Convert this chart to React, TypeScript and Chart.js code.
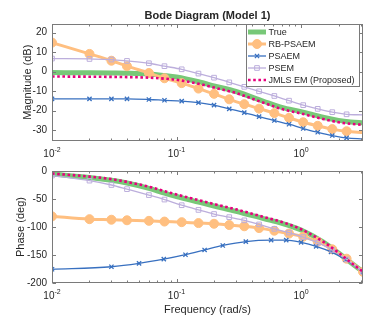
import React, { useEffect, useRef } from 'react';
import { Chart, registerables } from 'chart.js';

Chart.register(...registerables);

// ---------------- data ----------------
const FREQ_MARK = [0.01, 0.02, 0.03, 0.04, 0.06, 0.08, 0.11, 0.15, 0.2, 0.265, 0.35, 0.46, 0.61, 0.8, 1.04, 1.36, 1.78, 2.32, 3.1416];
const FREQ_SMOOTH = [0.01, 0.02, 0.03, 0.04, 0.06, 0.08, 0.1, 0.15, 0.2, 0.3, 0.5, 0.7, 1.0, 1.5, 2.0, 2.5, 3.1416];
const FREQ_PSAEM_PHASE = [0.01, 0.03, 0.05, 0.079, 0.118, 0.168, 0.235, 0.36, 0.575, 0.76, 1.0, 1.32, 1.74, 2.28, 3.1416];

const MAG_TRUE = [-0.5, -0.6, -0.7, -0.8, -1.2, -2.0, -2.8, -5.2, -7.3, -10.2, -15.2, -18.3, -20.5, -23.4, -25.0, -25.8, -26.3];
const MAG_JMLS = [-2.5, -2.6, -2.7, -2.8, -3.1, -3.6, -4.2, -6.2, -8.2, -11.0, -16.0, -19.2, -21.5, -24.3, -26.0, -26.8, -27.3];
const MAG_RB = [14.9, 9.1, 5.6, 2.8, -0.7, -3.4, -5.9, -8.7, -11.4, -14.2, -16.7, -19.0, -21.3, -23.7, -26.0, -27.8, -29.5, -30.6, -31.3];
const MAG_PSAEM = [-14.0, -14.0, -14.0, -14.0, -14.3, -14.7, -15.1, -15.9, -17.2, -19.1, -21.0, -23.1, -25.1, -27.0, -29.2, -31.1, -32.8, -34.0, -34.5];
const MAG_PSEM = [6.7, 6.5, 6.2, 5.5, 4.3, 2.8, 1.2, -1.0, -3.1, -5.5, -7.8, -10.1, -12.5, -14.9, -17.2, -19.1, -20.8, -21.9, -22.2];

const PH_TRUE = [-5.5, -11.5, -16.5, -21.5, -31, -39.5, -45.5, -55.5, -62.5, -72, -85, -93.5, -105.5, -126.5, -146.5, -163.5, -180];
const PH_JMLS = [-4.5, -10, -14.5, -19.5, -28, -36, -42, -52, -59, -68.5, -82, -91, -104, -126, -146, -163, -180];
const PH_RB = [-81, -86, -87, -88, -89, -90.3, -91.4, -93, -94.2, -96.5, -98.7, -102, -106.6, -111.7, -117.3, -126.3, -139.8, -156.6, -180];
const PH_PSEM = [-8.1, -17.2, -25, -32.4, -43, -51, -61.1, -69.5, -76.8, -82.4, -88.1, -95.4, -103.3, -110, -118, -128, -141, -158, -180];
const PH_PSAEM = [-175.5, -171, -165, -157.5, -149.5, -141, -133, -126, -123.5, -123.5, -127.5, -134.5, -144.5, -158.5, -180];

const X_MAJOR = [0.01, 0.1, 1];
const X_EXP = ['-2', '-1', '0'];
const MAG_TICKS = [-30, -20, -10, 0, 10, 20];
const PH_TICKS = [-200, -150, -100, -50, 0];

const TITLE = 'Bode Diagram (Model 1)';
const MAG_LABEL = 'Magnitude (dB)';
const PH_LABEL = 'Phase (deg)';
const X_LABEL = 'Frequency (rad/s)';
const NAMES = ['True', 'RB-PSAEM', 'PSAEM', 'PSEM', 'JMLS EM (Proposed)'];

// ---------------- styles ----------------
const FONT = "'Liberation Sans', Arial, Helvetica, sans-serif";
const TEXT = '#262626';
const AXIS = '#7a7a7a';
const GREEN = '#78c878';
const ORANGE = '#ffbf80';
const BLUE = '#3870c0';
const PURPLE = '#bcaedc';
const PINK = '#e6007e';

Chart.defaults.font.family = FONT;

type Style = { color: string; width: number; marker: string; radius: number; dash?: number[]; fill?: string; mw?: number };
const STYLES: Style[] = [
  { color: GREEN, width: 5, marker: 'none', radius: 0 },
  { color: ORANGE, width: 3, marker: 'circle', radius: 4.5, fill: ORANGE, mw: 1 },
  { color: BLUE, width: 1.3, marker: 'crossRot', radius: 3, mw: 1.3 },
  { color: PURPLE, width: 1.3, marker: 'rect', radius: 3.3, fill: 'rgba(0,0,0,0)', mw: 1 },
  { color: PINK, width: 2.6, marker: 'none', radius: 0, dash: [2.6, 2.6] },
];

function makeDataset(idx: number, xs: number[], ys: number[], hideLast: boolean) {
  const s = STYLES[idx];
  return {
    label: NAMES[idx],
    data: xs.map((x, i) => ({ x, y: ys[i] })),
    borderColor: s.color,
    borderWidth: s.width,
    borderDash: s.dash || [],
    borderCapStyle: 'butt',
    backgroundColor: s.fill || s.color,
    pointStyle: s.marker === 'none' ? false : s.marker,
    pointRadius: (c: any) => (s.marker === 'none' ? 0 : hideLast && c.dataIndex === c.dataset.data.length - 1 ? 0 : s.radius),
    pointBorderWidth: s.mw || 1,
    pointBorderColor: s.color,
    pointBackgroundColor: s.fill || s.color,
    cubicInterpolationMode: 'monotone',
    fill: false,
    order: 5 - idx,
  };
}

function drawMarker(ctx: CanvasRenderingContext2D, s: Style, x: number, y: number) {
  if (s.marker === 'none') return;
  ctx.save();
  ctx.setLineDash([]);
  ctx.strokeStyle = s.color;
  ctx.lineWidth = s.mw || 1;
  ctx.beginPath();
  if (s.marker === 'circle') {
    ctx.fillStyle = s.fill || s.color;
    ctx.arc(x, y, s.radius, 0, Math.PI * 2);
    ctx.fill();
    ctx.stroke();
  } else if (s.marker === 'rect') {
    const h = s.radius / Math.SQRT2;
    ctx.rect(x - h, y - h, 2 * h, 2 * h);
    ctx.stroke();
  } else if (s.marker === 'crossRot') {
    const h = s.radius * Math.cos(Math.PI / 4);
    ctx.moveTo(x - h, y - h); ctx.lineTo(x + h, y + h);
    ctx.moveTo(x - h, y + h); ctx.lineTo(x + h, y - h);
    ctx.stroke();
  }
  ctx.restore();
}

const framePlugin = {
  id: 'frame',
  afterDraw(chart: any, _args: any, opts: any) {
    const { ctx, chartArea: a, scales } = chart;
    const xs = scales.x, ys = scales.y;
    ctx.save();
    const L = Math.round(a.left) + 0.5, R = Math.round(a.right) - 0.5;
    const T = Math.round(a.top) + 0.5, B = Math.round(a.bottom) - 0.5;
    const MAJ = 3.5, MIN = 2;

    // legend (drawn over data, under frame)
    if (opts.legend) {
      const lx0 = 246.5, lx1 = 359.5, ly0 = T, ly1 = 86.5;
      ctx.fillStyle = '#ffffff';
      ctx.fillRect(lx0, ly0, lx1 - lx0, ly1 - ly0);
      ctx.strokeStyle = AXIS;
      ctx.lineWidth = 1;
      ctx.strokeRect(lx0, ly0, lx1 - lx0, ly1 - ly0);
      ctx.font = `9px ${FONT}`;
      ctx.textBaseline = 'middle';
      ctx.textAlign = 'left';
      NAMES.forEach((name, i) => {
        const s = STYLES[i];
        const y = 32 + i * 12;
        ctx.save();
        ctx.strokeStyle = s.color;
        ctx.lineWidth = s.width;
        ctx.setLineDash(s.dash || []);
        ctx.beginPath();
        ctx.moveTo(248, y);
        ctx.lineTo(266, y);
        ctx.stroke();
        ctx.restore();
        drawMarker(ctx, s, 257, y);
        ctx.fillStyle = TEXT;
        ctx.fillText(name, 268.5, y + 0.5);
      });
    }

    // box
    ctx.strokeStyle = AXIS;
    ctx.lineWidth = 1;
    ctx.setLineDash([]);
    ctx.strokeRect(L, T, R - L, B - T);

    // ticks
    ctx.beginPath();
    const xmax = xs.max;
    X_MAJOR.forEach((m) => {
      const px = Math.round(xs.getPixelForValue(m)) + 0.5;
      ctx.moveTo(px, B); ctx.lineTo(px, B - MAJ);
      ctx.moveTo(px, T); ctx.lineTo(px, T + MAJ);
      for (let k = 2; k <= 9; k++) {
        const v = m * k;
        if (v > xmax) break;
        const p = Math.round(xs.getPixelForValue(v)) + 0.5;
        ctx.moveTo(p, B); ctx.lineTo(p, B - MIN);
        ctx.moveTo(p, T); ctx.lineTo(p, T + MIN);
      }
    });
    opts.yTicks.forEach((v: number) => {
      const py = Math.round(ys.getPixelForValue(v)) + 0.5;
      ctx.moveTo(L, py); ctx.lineTo(L + MAJ, py);
      ctx.moveTo(R, py); ctx.lineTo(R - MAJ, py);
    });
    ctx.stroke();

    // x tick labels 10^n
    ctx.fillStyle = TEXT;
    ctx.textBaseline = 'alphabetic';
    ctx.textAlign = 'left';
    X_MAJOR.forEach((m, i) => {
      const px = xs.getPixelForValue(m);
      ctx.font = `10px ${FONT}`;
      const w1 = ctx.measureText('10').width;
      ctx.font = `7px ${FONT}`;
      const w2 = ctx.measureText(X_EXP[i]).width;
      const start = px - (w1 + w2) / 2;
      ctx.font = `10px ${FONT}`;
      ctx.fillText('10', start, B + 16.5);
      ctx.font = `7px ${FONT}`;
      ctx.fillText(X_EXP[i], start + w1, B + 11.5);
    });

    // y label
    ctx.save();
    ctx.font = `11px ${FONT}`;
    ctx.textAlign = 'center';
    ctx.textBaseline = 'middle';
    ctx.translate(opts.yTitleX, (a.top + a.bottom) / 2);
    ctx.rotate(-Math.PI / 2);
    ctx.fillText(opts.yTitle, 0, 0);
    ctx.restore();

    // x label
    if (opts.xTitle) {
      ctx.font = `11px ${FONT}`;
      ctx.textAlign = 'center';
      ctx.textBaseline = 'alphabetic';
      ctx.fillText(opts.xTitle, (a.left + a.right) / 2, B + 30.5);
    }

    // title
    if (opts.title) {
      ctx.font = `bold 11px ${FONT}`;
      ctx.textAlign = 'center';
      ctx.textBaseline = 'alphabetic';
      ctx.fillText(opts.title, (a.left + a.right) / 2, 19);
    }
    ctx.restore();
  },
};

function makeConfig(datasets: any[], yMin: number, yMax: number, yTicks: number[], padTop: number, xHeight: number, frame: any) {
  return {
    type: 'line',
    data: { datasets },
    options: {
      responsive: false,
      animation: false,
      devicePixelRatio: 1,
      events: [],
      layout: { padding: { left: 0, right: 11, top: padTop, bottom: 0 } },
      plugins: { legend: { display: false }, tooltip: { enabled: false }, title: { display: false }, frame },
      scales: {
        x: {
          type: 'logarithmic',
          min: 0.01,
          max: Math.PI,
          grid: { display: false, drawTicks: false },
          border: { display: false },
          ticks: { display: false },
          afterFit: (s: any) => { s.height = xHeight; },
        },
        y: {
          type: 'linear',
          min: yMin,
          max: yMax,
          grid: { display: false, drawTicks: false },
          border: { display: false },
          ticks: { color: TEXT, font: { size: 10, family: FONT }, padding: 5 },
          afterBuildTicks: (s: any) => { s.ticks = yTicks.map((v) => ({ value: v })); },
          afterFit: (s: any) => { s.width = 52; },
        },
      },
    },
    plugins: [framePlugin],
  } as any;
}

export default function App() {
  const topRef = useRef<HTMLCanvasElement>(null);
  const botRef = useRef<HTMLCanvasElement>(null);

  useEffect(() => {
    const magSets = [
      makeDataset(0, FREQ_SMOOTH, MAG_TRUE, false),
      makeDataset(1, FREQ_MARK, MAG_RB, true),
      makeDataset(2, FREQ_MARK, MAG_PSAEM, true),
      makeDataset(3, FREQ_MARK, MAG_PSEM, true),
      makeDataset(4, FREQ_SMOOTH, MAG_JMLS, false),
    ];
    const phSets = [
      makeDataset(0, FREQ_SMOOTH, PH_TRUE, false),
      makeDataset(1, FREQ_MARK, PH_RB, false),
      makeDataset(2, FREQ_PSAEM_PHASE, PH_PSAEM, false),
      makeDataset(3, FREQ_MARK, PH_PSEM, false),
      makeDataset(4, FREQ_SMOOTH, PH_JMLS, false),
    ];
    const c1 = new Chart(topRef.current!, makeConfig(magSets, -35.6, 24.7, MAG_TICKS, 23.5, 19,
      { yTicks: MAG_TICKS, yTitle: MAG_LABEL, yTitleX: 28, title: TITLE, legend: true }));
    const c2 = new Chart(botRef.current!, makeConfig(phSets, -200, 0, PH_TICKS, 4.5, 45,
      { yTicks: PH_TICKS, yTitle: PH_LABEL, yTitleX: 20.5, xTitle: X_LABEL }));
    return () => { c1.destroy(); c2.destroy(); };
  }, []);

  return (
    <div style={{ position: 'fixed', left: 0, top: 0, width: 374, height: 328, background: '#ffffff' }}>
      <canvas ref={topRef} width={374} height={160} style={{ position: 'absolute', left: 0, top: 0, width: 374, height: 160 }} />
      <canvas ref={botRef} width={374} height={168} style={{ position: 'absolute', left: 0, top: 160, width: 374, height: 168 }} />
    </div>
  );
}
